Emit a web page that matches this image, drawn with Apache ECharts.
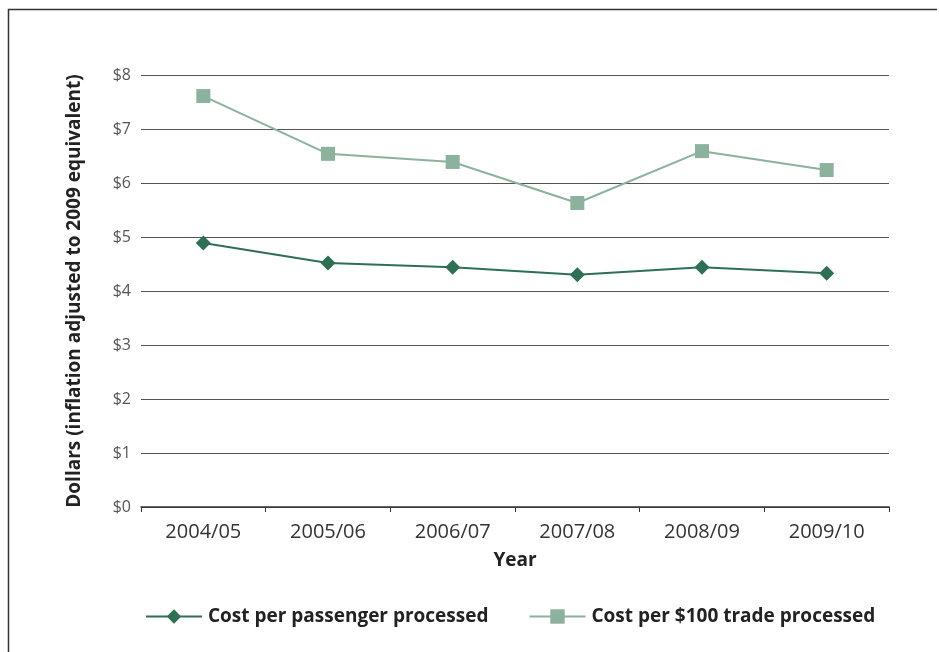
<!DOCTYPE html>
<html>
<head>
<meta charset="utf-8">
<script src="https://cdn.jsdelivr.net/npm/echarts@6/dist/echarts.min.js"></script>
<style>
  html, body { margin: 0; padding: 0; background: #fff; }
  #chart { width: 939px; height: 652px; }
</style>
</head>
<body>
<div id="chart"></div>
<script>
// Financial years shown on the category axis
const years = ['2004/05', '2005/06', '2006/07', '2007/08', '2008/09', '2009/10'];
// Inflation-adjusted cost per passenger processed (dollars)
const costPerPassenger = [4.89, 4.52, 4.44, 4.30, 4.44, 4.33];
// Inflation-adjusted cost per $100 of trade processed (dollars)
const costPerTrade = [7.61, 6.54, 6.39, 5.63, 6.59, 6.24];
// Value-axis ticks, in dollars
const yTicks = [0, 1, 2, 3, 4, 5, 6, 7, 8];

const FONT = '"Open Sans", "Noto Sans", sans-serif';
const DARK = '#2f6f56';
const LIGHT = '#8cb19d';

const chart = echarts.init(document.getElementById('chart'), null, { renderer: 'canvas' });

chart.setOption({
  backgroundColor: '#ffffff',
  animation: false,
  textStyle: { fontFamily: FONT },
  graphic: [
    // open frame: left and top edges only
    { type: 'line', shape: { x1: 8.5, y1: 9, x2: 8.5, y2: 652 }, style: { stroke: '#333', lineWidth: 1.5 } },
    { type: 'line', shape: { x1: 8, y1: 9.5, x2: 937, y2: 9.5 }, style: { stroke: '#333', lineWidth: 1.5 } }
  ],
  grid: { left: 141, right: 50, top: 75, bottom: 145, containLabel: false },
  legend: {
    left: 140,
    top: 602,
    itemWidth: 56,
    itemHeight: 18,
    itemGap: 40,
    textStyle: { fontFamily: FONT, fontSize: 19, fontWeight: 'bold', color: '#222', padding: [0, 0, 0, 1] },
    data: ['Cost per passenger processed', 'Cost per $100 trade processed']
  },
  xAxis: {
    type: 'category',
    data: years,
    boundaryGap: true,
    name: 'Year',
    nameLocation: 'middle',
    nameGap: 44,
    nameTextStyle: { fontFamily: FONT, fontSize: 19, fontWeight: 'bold', color: '#222' },
    axisLine: { lineStyle: { color: '#333', width: 1.5 } },
    axisTick: { show: true, length: 5, lineStyle: { color: '#333', width: 1 } },
    axisLabel: { fontFamily: FONT, fontSize: 20, color: '#333', margin: 15 },
    splitLine: { show: false }
  },
  yAxis: {
    type: 'value',
    min: yTicks[0],
    max: yTicks[yTicks.length - 1],
    interval: 1,
    name: 'Dollars (inflation adjusted to 2009 equivalent)',
    nameLocation: 'middle',
    nameGap: 57,
    nameTextStyle: { fontFamily: FONT, fontSize: 19, fontWeight: 'bold', color: '#222' },
    axisLine: { show: false },
    axisTick: { show: false },
    axisLabel: { fontFamily: FONT, fontSize: 16, color: '#555', margin: 10, formatter: v => '$' + v },
    splitLine: { show: true, lineStyle: { color: '#555', width: 1 } }
  },
  series: [
    {
      name: 'Cost per passenger processed',
      type: 'line',
      data: costPerPassenger,
      symbol: 'diamond',
      symbolSize: 15,
      lineStyle: { color: DARK, width: 2 },
      itemStyle: { color: DARK },
      z: 3
    },
    {
      name: 'Cost per $100 trade processed',
      type: 'line',
      data: costPerTrade,
      symbol: 'rect',
      symbolSize: 14,
      lineStyle: { color: LIGHT, width: 2 },
      itemStyle: { color: LIGHT },
      z: 2
    }
  ]
});
</script>
</body>
</html>
